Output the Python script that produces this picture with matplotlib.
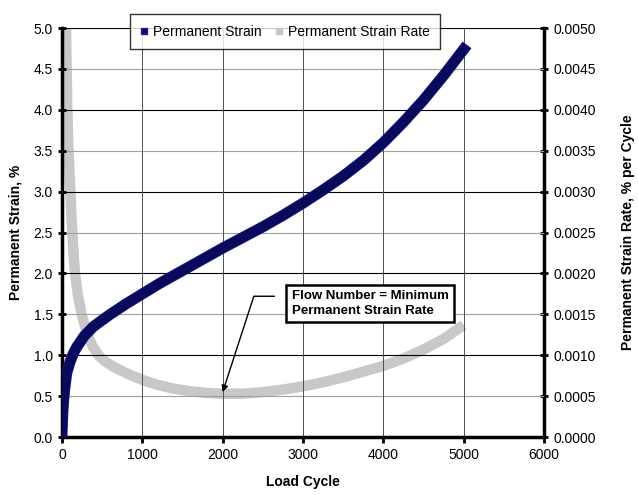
import matplotlib
matplotlib.use('Agg')
import matplotlib.pyplot as plt
from matplotlib.lines import Line2D
import matplotlib.patheffects as pe

plt.rcParams['font.family'] = ['Liberation Sans', 'DejaVu Sans']

# permanent strain (left axis, %)
strain_cycles = [0, 10, 20, 35, 58, 100, 140, 183, 280, 390, 500, 600, 800, 1000,
                 1200, 1400, 1600, 1800, 2000, 2250, 2500, 2750, 3000, 3250, 3500,
                 3750, 4000, 4250, 4500, 4750, 5000]
strain = [0.05, 0.30, 0.45, 0.60, 0.78, 0.92, 1.02, 1.10, 1.24, 1.35, 1.43, 1.50, 1.63,
          1.75, 1.87, 1.98, 2.09, 2.20, 2.31, 2.44, 2.57, 2.71, 2.86, 3.02, 3.19,
          3.38, 3.60, 3.85, 4.12, 4.42, 4.74]

# permanent strain rate (right axis, % per cycle)
rate_cycles = [50, 58, 66, 80, 104, 122, 140, 162, 200, 245, 290, 330, 380, 453, 530,
               640, 740, 850, 1000, 1180, 1400, 1600, 1800, 2000, 2250, 2500, 2750,
               3000, 3250, 3500, 3750, 4000, 4250, 4500, 4750, 5000]
rate = [0.0050, 0.0045, 0.0040, 0.0035, 0.0030, 0.0026, 0.0023, 0.0020, 0.00172, 0.0015,
        0.00134, 0.00122, 0.00111, 0.00100, 0.00093, 0.00086, 0.00081, 0.00076,
        0.00070, 0.00064, 0.00059, 0.00056, 0.00054, 0.00053, 0.00053, 0.00055,
        0.00058, 0.00062, 0.00067, 0.00073, 0.00080, 0.00087, 0.00096, 0.00107,
        0.00120, 0.00137]

left_ticks = [0.0, 0.5, 1.0, 1.5, 2.0, 2.5, 3.0, 3.5, 4.0, 4.5, 5.0]
right_ticks = [0.0, 0.0005, 0.0010, 0.0015, 0.0020, 0.0025, 0.0030, 0.0035, 0.0040, 0.0045, 0.0050]
x_ticks = [0, 1000, 2000, 3000, 4000, 5000, 6000]

fig = plt.figure(figsize=(6.38, 4.95), dpi=100)
ax = fig.add_axes([0.0972, 0.117, 0.7555, 0.8264])
ax2 = ax.twinx()

ax.set_xlim(0, 6000)
ax.set_ylim(0, 5.0)
ax2.set_ylim(0, 0.005)

# grid lines
for v in left_ticks[1:]:
    if v == int(v):
        ax.axhline(v, color='black', lw=0.8, zorder=0)
    else:
        ax.axhline(v, color='#a0a0a0', lw=0.8, zorder=0)
for v in x_ticks[1:-1]:
    ax.axvline(v, color='#505050', lw=0.7, zorder=0)

ax2.plot(rate_cycles, rate, color='#c8c8c8', lw=7.5, solid_capstyle='butt',
         solid_joinstyle='round', zorder=2)
ax.plot(strain_cycles, strain, color='#0a0a5a', lw=7, zorder=3, solid_joinstyle='round',
        path_effects=[pe.Stroke(linewidth=8, foreground='#2020a0'), pe.Normal()])
ax.set_zorder(ax2.get_zorder() + 1)
ax.patch.set_visible(False)

ax.set_xticks(x_ticks)
ax.set_yticks(left_ticks)
ax.set_yticklabels(['%.1f' % v for v in left_ticks])
ax2.set_yticks(right_ticks)
ax2.set_yticklabels(['%.4f' % v for v in right_ticks])

for a in (ax, ax2):
    a.tick_params(labelsize=10, width=2, length=4)
    a.spines['top'].set_visible(False)
ax.spines['left'].set_linewidth(2.5)
ax.spines['bottom'].set_linewidth(2.5)
ax.spines['right'].set_visible(False)
ax2.spines['right'].set_linewidth(2.5)
ax2.spines['left'].set_visible(False)
ax2.spines['bottom'].set_visible(False)
ax.tick_params(axis='y', direction='inout', length=6)
ax2.tick_params(axis='y', direction='inout', length=6)

ax.set_xlabel('Load Cycle', fontsize=10, fontweight='bold', labelpad=10)
ax.set_ylabel('Permanent Strain, %', fontsize=10, fontweight='bold', labelpad=8)
ax2.set_ylabel('Permanent Strain Rate, % per Cycle', fontsize=10, fontweight='bold', labelpad=18)

handles = [Line2D([], [], marker='s', ls='none', color='#0a0a5a', markeredgecolor='#2020a0', markersize=5),
           Line2D([], [], marker='s', ls='none', color='#c8c8c8', markersize=5)]
leg = fig.legend(handles, ['Permanent Strain', 'Permanent Strain Rate'], loc='center',
                 bbox_to_anchor=(0.4467, 0.936), ncol=2, fontsize=10, frameon=True,
                 fancybox=False, edgecolor='black', handlelength=0.6, handletextpad=0.3,
                 columnspacing=1.0, borderpad=0.75)
leg.get_frame().set_linewidth(1.0)

ax.annotate('Flow Number = Minimum\nPermanent Strain Rate', xy=(2000, 0.55),
            xytext=(2860, 1.63), fontsize=9.5, fontweight='bold', va='center', ha='left',
            linespacing=1.3,
            bbox=dict(boxstyle='square,pad=0.4', fc='white', ec='black', lw=1.8),
            arrowprops=dict(arrowstyle='-|>', color='black', lw=1.0, relpos=(0, 0.78),
                            connectionstyle='angle,angleA=180,angleB=72,rad=0',
                            shrinkA=8, shrinkB=0))

fig.savefig('out.png', dpi=100)
